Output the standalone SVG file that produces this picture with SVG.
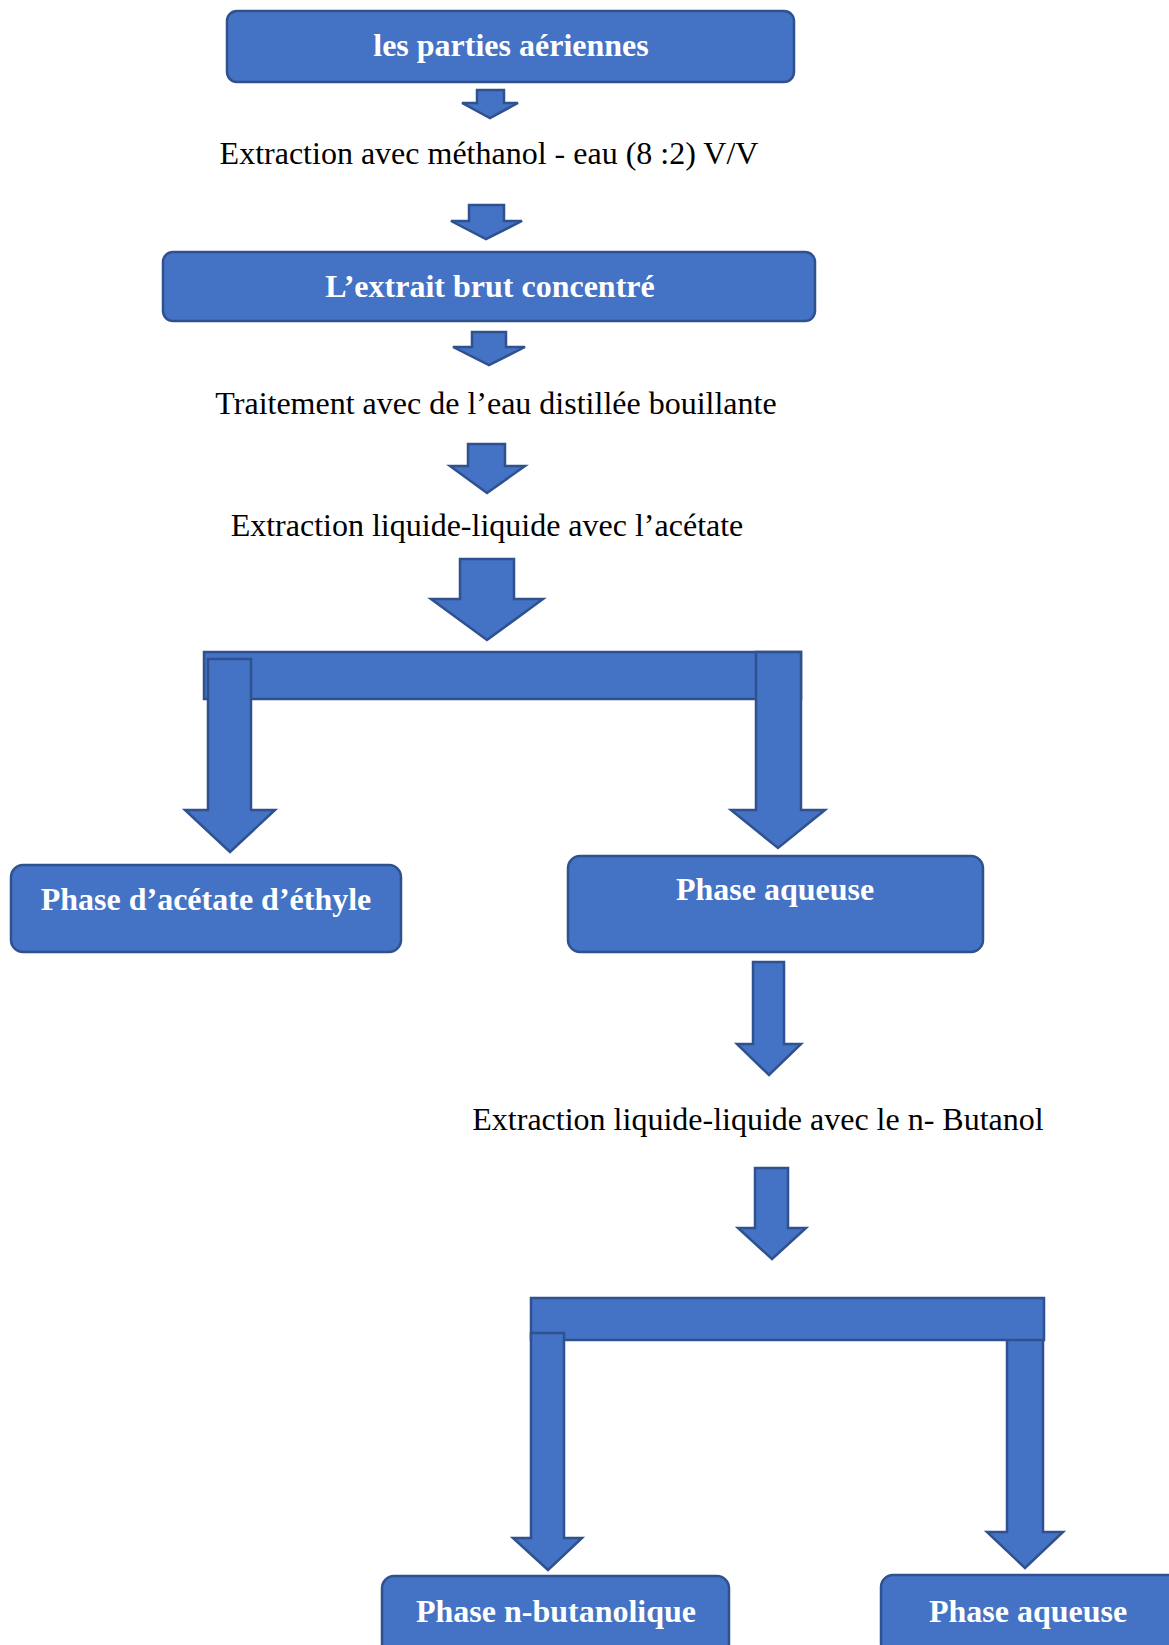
<svg xmlns="http://www.w3.org/2000/svg" width="1169" height="1645" viewBox="0 0 1169 1645">
<style>
.box{fill:#4472C4;stroke:#2F528F;stroke-width:2.5}
.arr{fill:#4472C4;stroke:#2F528F;stroke-width:2.5;stroke-linejoin:miter}
.bt{font-family:"Liberation Serif","Times New Roman",serif;font-weight:bold;font-size:32px;fill:#fff;text-anchor:middle}
.t{font-family:"Liberation Serif","Times New Roman",serif;font-size:32px;fill:#000;text-anchor:middle}
</style>
<rect width="1169" height="1645" fill="#fff"/>
<g id="connectors">
<path class="arr" d="M477,90 H504 V103 H518 L490,118 L462,103 H477 Z"/>
<path class="arr" d="M469,205 H504 V221 H522 L486,239 L451,221 H469 Z"/>
<path class="arr" d="M472,332 H506 V347 H525 L489,365 L453,347 H472 Z"/>
<path class="arr" d="M468,444 H505 V466 H525 L487,493 L450,466 H468 Z"/>
<path class="arr" d="M460,559 H514 V599 H543 L487,640 L431,599 H460 Z"/>
<rect class="arr" x="204" y="652" width="597" height="47"/>
<path class="arr" d="M208,659 H251 V810 H275 L230,852 L185,810 H208 Z"/>
<path class="arr" d="M756,652 H801 V810 H825 L778,848 L731,810 H756 Z"/>
<path class="arr" d="M753,962 H784 V1044 H801 L769,1075 L737,1044 H753 Z"/>
<path class="arr" d="M755,1168 H788 V1228 H806 L772,1259 L738,1228 H755 Z"/>
<path class="arr" d="M1007,1338 H1043 V1532 H1063 L1025,1568 L987,1532 H1007 Z"/>
<rect class="arr" x="531" y="1298" width="513" height="42"/>
<path class="arr" d="M531,1333 H564 V1538 H582 L548,1570 L513,1538 H531 Z"/>
</g>
<g id="n1"><rect class="box" x="227" y="11" width="567" height="71" rx="10"/><text class="bt" x="511" y="56">les parties aériennes</text></g>
<g id="t1"><text class="t" x="489" y="164">Extraction avec méthanol - eau (8 :2) V/V</text></g>
<g id="n2"><rect class="box" x="163" y="252" width="652" height="69" rx="10"/><text class="bt" x="490" y="297">L’extrait brut concentré</text></g>
<g id="t2"><text class="t" x="496" y="414">Traitement avec de l’eau distillée bouillante</text></g>
<g id="t3"><text class="t" x="487" y="536">Extraction liquide-liquide avec l’acétate</text></g>
<g id="n3"><rect class="box" x="11" y="865" width="390" height="87" rx="12"/><text class="bt" x="206" y="910">Phase d’acétate d’éthyle</text></g>
<g id="n4"><rect class="box" x="568" y="856" width="415" height="96" rx="12"/><text class="bt" x="775" y="900">Phase aqueuse</text></g>
<g id="t4"><text class="t" x="758" y="1130">Extraction liquide-liquide avec le n- Butanol</text></g>
<g id="n5"><rect class="box" x="382" y="1576" width="347" height="80" rx="12"/><text class="bt" x="556" y="1622">Phase n-butanolique</text></g>
<g id="n6"><rect class="box" x="881" y="1575" width="300" height="80" rx="12"/><text class="bt" x="1028" y="1622">Phase aqueuse</text></g>
</svg>
